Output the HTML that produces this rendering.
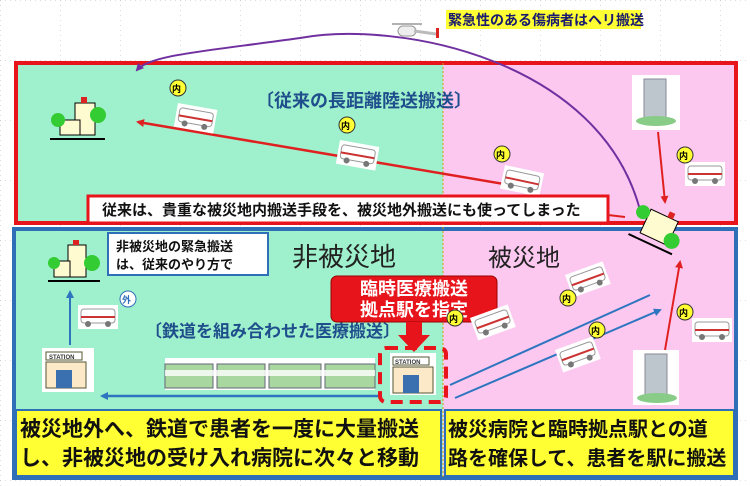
<!DOCTYPE html>
<html><head><meta charset="utf-8"><style>
html,body{margin:0;padding:0;background:#fff}
svg{display:block}
text{font-family:"Liberation Sans","Noto Sans CJK JP",sans-serif;font-weight:bold}
</style></head><body>
<svg width="750" height="486" viewBox="0 0 750 486" xmlns="http://www.w3.org/2000/svg">
<defs>
<pattern id="dots" width="60" height="60" patternUnits="userSpaceOnUse"><path d="M0 0H60M0 0V60" stroke="#bbb" stroke-width="1" stroke-dasharray="1 4"/></pattern>
<marker id="ar" markerWidth="8" markerHeight="8" refX="6" refY="4" orient="auto" markerUnits="userSpaceOnUse"><path d="M0 0L8 4L0 8z" fill="#e02020"/></marker>
<marker id="ab" markerWidth="8" markerHeight="8" refX="6" refY="4" orient="auto" markerUnits="userSpaceOnUse"><path d="M0 0L8 4L0 8z" fill="#2e75c0"/></marker>
<marker id="ap" markerWidth="8" markerHeight="8" refX="6" refY="4" orient="auto" markerUnits="userSpaceOnUse"><path d="M0 0L8 4L0 8z" fill="#7030a0"/></marker>
<g id="amb"><rect x="0" y="0" width="40" height="24" fill="#fff"/><rect x="3" y="4" width="34" height="14" rx="3" fill="#fff" stroke="#999"/><rect x="3" y="11" width="34" height="2" fill="#c33"/><circle cx="10" cy="19" r="3" fill="#777"/><circle cx="30" cy="19" r="3" fill="#777"/></g>
</defs>
<rect width="750" height="486" fill="#fff"/>
<rect width="750" height="486" fill="url(#dots)"/>
<rect x="17" y="63" width="426" height="160" fill="#9ff0cc"/>
<rect x="443" y="63" width="293" height="160" fill="#fcc8f0"/>
<rect x="14" y="228" width="429" height="252" fill="#9ff0cc"/>
<rect x="443" y="228" width="293" height="252" fill="#fcc8f0"/>
<rect x="16" y="63" width="720" height="160" fill="none" stroke="#e8141c" stroke-width="4"/>
<rect x="14" y="229" width="722" height="249" fill="none" stroke="#2e6fb8" stroke-width="4"/>
<line x1="443" y1="63" x2="443" y2="478" stroke="#c8a000" stroke-width="1" stroke-dasharray="2 2"/>
<rect x="446" y="10" width="195" height="19" fill="#ffff33"/>
<text x="448" y="25" font-size="14" fill="#1a1a6e">緊急性のある傷病者はヘリ搬送</text>
<g transform="translate(398,22)"><rect x="0" y="4" width="18" height="10" rx="5" fill="#eee" stroke="#999"/><line x1="-6" y1="2" x2="24" y2="2" stroke="#666"/><line x1="16" y1="9" x2="38" y2="12" stroke="#bbb" stroke-width="3"/><rect x="38" y="6" width="3" height="10" fill="#d22"/></g>
<path d="M640 210 C 600 60, 400 20, 300 38 C 200 52, 150 55, 137 70" fill="none" stroke="#7030a0" stroke-width="2" marker-end="url(#ap)"/>
<text x="256" y="107" font-size="18" fill="#1f4e8c">〔従来の長距離陸送搬送〕</text>
<line x1="510" y1="185" x2="138" y2="122" stroke="#e02020" stroke-width="2.5" marker-end="url(#ar)"/>
<g transform="translate(50,95)"><rect x="25" y="8" width="20" height="32" fill="#fffbd0" stroke="#000"/><rect x="31" y="2" width="6" height="6" fill="#d22"/><rect x="10" y="25" width="20" height="15" fill="#fffbd0" stroke="#000"/><circle cx="8" cy="25" r="7" fill="#3c3"/><circle cx="48" cy="20" r="8" fill="#3c3"/><line x1="0" y1="44" x2="55" y2="44" stroke="#000" stroke-width="2"/></g>
<g transform="translate(178,103) rotate(10)"><use href="#amb"/></g>
<circle cx="178" cy="88" r="8" fill="#ff3" stroke="#333"/><text x="172" y="92" font-size="9">内</text>
<g transform="translate(340,140) rotate(10)"><use href="#amb"/></g>
<circle cx="347" cy="125" r="8" fill="#ff3" stroke="#333"/><text x="341" y="129" font-size="9">内</text>
<g transform="translate(505,165) rotate(12)"><use href="#amb"/></g>
<circle cx="502" cy="154" r="8" fill="#ff3" stroke="#333"/><text x="496" y="158" font-size="9">内</text>
<g transform="translate(685,162)"><use href="#amb"/></g>
<circle cx="685" cy="155" r="8" fill="#ff3" stroke="#333"/><text x="679" y="159" font-size="9">内</text>
<g transform="translate(632,75)"><rect width="48" height="55" fill="#fff"/><rect x="12" y="4" width="22" height="40" fill="#bcc6cc" stroke="#889"/><ellipse cx="24" cy="46" rx="20" ry="5" fill="#8c8"/></g>
<line x1="658" y1="132" x2="665" y2="202" stroke="#e02020" stroke-width="2" marker-end="url(#ar)"/>
<rect x="88" y="196" width="520" height="27" fill="#fff" stroke="#e8141c" stroke-width="3"/>
<text x="102" y="215" font-size="15" fill="#111">従来は、貴重な被災地内搬送手段を、被災地外搬送にも使ってしまった</text>
<line x1="608" y1="215" x2="625" y2="217" stroke="#e02020" stroke-width="2"/>
<g transform="translate(642,205) rotate(25)"><rect x="10" y="0" width="30" height="26" fill="#fffbd0" stroke="#000"/><rect x="28" y="-6" width="6" height="6" fill="#d22"/><circle cx="4" cy="6" r="7" fill="#3c3"/><circle cx="42" cy="20" r="8" fill="#3c3"/><line x1="0" y1="32" x2="48" y2="32" stroke="#000" stroke-width="2"/></g>
<rect x="108" y="233" width="160" height="42" fill="#fff" stroke="#2e6fb8" stroke-width="2"/>
<text x="116" y="251" font-size="13" fill="#111">非被災地の緊急搬送</text>
<text x="116" y="269" font-size="13" fill="#111">は、従来のやり方で</text>
<text x="292" y="266" font-size="26" fill="#222" style="font-weight:normal">非被災地</text>
<text x="488" y="266" font-size="24" fill="#222" style="font-weight:normal">被災地</text>
<g transform="translate(48,245)"><rect x="20" y="0" width="18" height="32" fill="#fffbd0" stroke="#000"/><rect x="25" y="-5" width="6" height="5" fill="#d22"/><rect x="6" y="16" width="16" height="16" fill="#fffbd0" stroke="#000"/><circle cx="6" cy="18" r="6" fill="#3c3"/><circle cx="44" cy="18" r="8" fill="#3c3"/><line x1="0" y1="36" x2="52" y2="36" stroke="#000" stroke-width="2"/></g>
<line x1="70" y1="345" x2="70" y2="292" stroke="#2e75c0" stroke-width="2" marker-end="url(#ab)"/>
<g transform="translate(78,305)"><use href="#amb"/></g>
<circle cx="128" cy="299" r="8" fill="#fff" stroke="#2e6fb8"/><text x="122" y="303" font-size="9" fill="#2e6fb8">外</text>
<text x="145" y="337" font-size="17" fill="#1f4e8c">〔鉄道を組み合わせた医療搬送〕</text>
<g transform="translate(42,348)"><rect width="52" height="44" fill="#fff"/><rect x="4" y="4" width="36" height="8" fill="#fff" stroke="#553"/><text x="7" y="11" font-size="6" fill="#333">STATION</text><rect x="4" y="14" width="40" height="26" fill="#fbe9c8" stroke="#553"/><rect x="14" y="22" width="16" height="18" fill="#3a6fb0"/></g>
<g transform="translate(165,358)"><rect x="0" y="0" width="210" height="32" fill="#fff"/><rect x="0" y="6" width="48" height="24" fill="#a8d8a0" stroke="#667"/><rect x="52" y="6" width="48" height="24" fill="#a8d8a0" stroke="#667"/><rect x="104" y="6" width="52" height="24" fill="#a8d8a0" stroke="#667"/><rect x="160" y="6" width="50" height="24" fill="#a8d8a0" stroke="#667"/><rect x="0" y="12" width="210" height="6" fill="#fff" opacity="0.8"/></g>
<line x1="382" y1="396" x2="102" y2="396" stroke="#2e75c0" stroke-width="2.5" marker-end="url(#ab)"/>
<rect x="331" y="276" width="166" height="46" rx="6" fill="#e8141c" stroke="#900"/>
<text x="414" y="295" font-size="18" fill="#fff" text-anchor="middle">臨時医療搬送</text>
<text x="414" y="316" font-size="18" fill="#fff" text-anchor="middle">拠点駅を指定</text>
<path d="M406 322h16v13h8l-16 17l-16-17h8z" fill="#e8141c"/>
<g transform="translate(390,353)"><rect width="46" height="42" fill="#fff"/><rect x="3" y="4" width="36" height="8" fill="#fff" stroke="#553"/><text x="5" y="11" font-size="6" fill="#333">STATION</text><rect x="3" y="14" width="40" height="26" fill="#fbe9c8" stroke="#553"/><rect x="13" y="22" width="16" height="18" fill="#3a6fb0"/></g>
<rect x="380" y="348" width="66" height="54" rx="6" fill="none" stroke="#e8141c" stroke-width="4" stroke-dasharray="12 7"/>
<line x1="450" y1="385" x2="650" y2="295" stroke="#2e75c0" stroke-width="2"/>
<line x1="455" y1="398" x2="660" y2="310" stroke="#2e75c0" stroke-width="2" marker-end="url(#ab)"/>
<line x1="665" y1="350" x2="680" y2="262" stroke="#e02020" stroke-width="2" marker-end="url(#ar)"/>
<g transform="translate(565,275) rotate(-20)"><use href="#amb"/></g>
<circle cx="568" cy="298" r="8" fill="#ff3" stroke="#333"/><text x="562" y="302" font-size="9">内</text>
<g transform="translate(470,318) rotate(-20)"><use href="#amb"/></g>
<circle cx="455" cy="318" r="8" fill="#ff3" stroke="#333"/><text x="449" y="322" font-size="9">内</text>
<g transform="translate(555,350) rotate(-20)"><use href="#amb"/></g>
<circle cx="597" cy="330" r="8" fill="#ff3" stroke="#333"/><text x="591" y="334" font-size="9">内</text>
<g transform="translate(692,318)"><use href="#amb"/></g>
<circle cx="685" cy="312" r="8" fill="#ff3" stroke="#333"/><text x="679" y="316" font-size="9">内</text>
<g transform="translate(633,350)"><rect width="46" height="55" fill="#fff"/><rect x="12" y="4" width="22" height="42" fill="#bcc6cc" stroke="#889"/><ellipse cx="24" cy="48" rx="20" ry="5" fill="#8c8"/></g>
<rect x="16" y="410" width="425" height="66" fill="#ffff33" stroke="#2e6fb8" stroke-width="2"/>
<rect x="445" y="410" width="289" height="66" fill="#ffff33" stroke="#2e6fb8" stroke-width="2"/>
<text x="20" y="436" font-size="21" fill="#111">被災地外へ、鉄道で患者を一度に大量搬送</text>
<text x="20" y="465" font-size="21" fill="#111">し、非被災地の受け入れ病院に次々と移動</text>
<text x="448" y="436" font-size="20" fill="#111">被災病院と臨時拠点駅との道</text>
<text x="448" y="465" font-size="20" fill="#111">路を確保して、患者を駅に搬送</text>
</svg>
</body></html>
